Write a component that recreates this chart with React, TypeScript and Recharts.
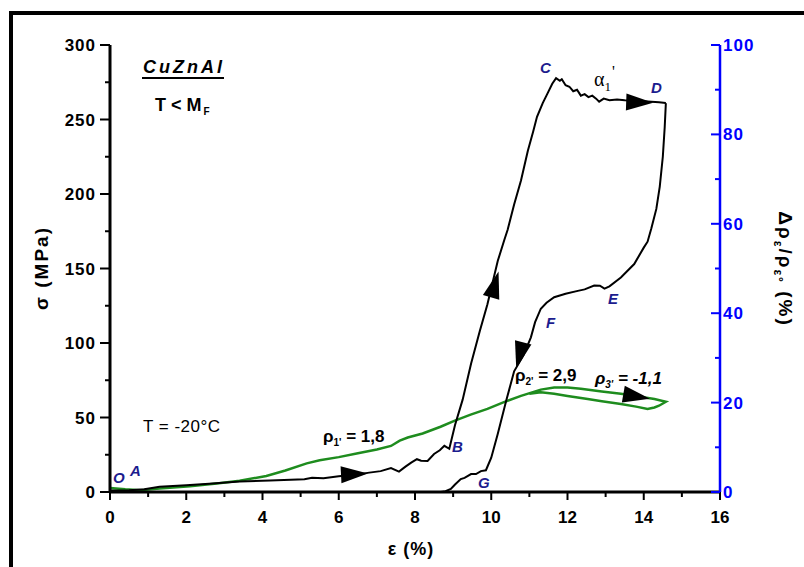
import React from 'react';
import { ComposedChart, Line, Scatter, XAxis, YAxis } from 'recharts';

// strain (%) and stress (MPa) on loading O-A-B-C-D
const loadStrain = [
  0, 0.5, 0.9, 1.3, 2.0, 2.6, 3.4, 4.2, 5.1, 5.3, 5.6, 6.0, 6.4, 6.8, 7.1, 7.37, 7.58, 7.75,
  7.9, 8.05, 8.16, 8.33, 8.5, 8.65, 8.77, 8.9, 9.05, 9.25, 9.47, 9.7, 9.9, 10.17, 10.34, 10.43,
  10.6, 10.78, 10.96, 11.1, 11.2, 11.35, 11.48, 11.6, 11.7, 11.8, 11.85, 11.95, 12.05, 12.15,
  12.25, 12.35, 12.45, 12.55, 12.65, 12.75, 12.83, 12.95, 13.1, 13.3, 13.5, 13.8, 14.1, 14.4, 14.58,
];
const loadStress = [
  1, 1.2, 1.8, 3.5, 4.5, 5.5, 7, 7.8, 8.5, 9.5, 9.2, 10.5, 11.5, 13, 14, 16, 13.7, 17,
  19.7, 22, 21, 20.8, 25.5, 28, 31, 29, 45, 62, 86, 108, 126, 155, 169, 176,
  193, 209, 229, 242, 251.8, 261, 267.7, 274, 277.8, 276, 277, 273, 272, 269,
  270, 266, 267, 265, 266, 264, 262, 264, 263, 263.5, 263, 262.5, 262, 261.5, 261,
];

// unloading D-E-F-G
const unloadStrain = [
  14.58, 14.55, 14.5, 14.42, 14.33, 14.2, 14.1, 14.0, 13.75, 13.4, 13.1, 12.97, 12.85, 12.7,
  12.45, 12.27, 11.95, 11.65, 11.45, 11.3, 11.15, 11.04, 10.85, 10.6, 10.39, 10.17, 10.0, 9.86,
  9.73, 9.6, 9.47, 9.3, 9.2, 9.05, 8.94, 8.8, 8.68,
];
const unloadStress = [
  261, 245, 225, 205, 190, 177, 168, 164, 153, 144, 138, 136.5, 138.5, 138.6,
  136, 135, 133, 130.7, 127, 123, 114, 103.8, 92, 81, 61, 39, 23, 14.6,
  14, 12, 12, 9.5, 8.7, 5, 2, 0.5, 0,
];

// relative resistance change (%)
const resStrain = [
  0, 0.4, 0.8, 1.3, 2.1, 2.8, 3.4, 4.1, 4.6, 5.16, 5.5, 6.0, 6.47, 7.0, 7.37, 7.6, 7.81, 8.2,
  8.67, 9.03, 9.46, 9.9, 10.3, 10.78, 11.3, 11.65, 12.0, 12.35, 12.9, 13.4, 13.9, 14.28, 14.58,
  14.4, 14.28, 14.1, 13.8, 13.4, 12.9, 12.53, 12.0, 11.65, 11.3, 11.0,
];
const resChange = [
  0.9, 0.6, 0.4, 0.8, 1.3, 1.9, 2.5, 3.6, 4.8, 6.4, 7.1, 7.8, 8.6, 9.5, 10.3, 11.5, 12.2, 13.1,
  14.6, 15.9, 17.3, 18.6, 20, 21.5, 22.9, 23.4, 23.4, 23.1, 22.5, 22, 21.3, 20.8, 20.2,
  19.3, 18.9, 18.6, 19.1, 19.7, 20.3, 20.8, 21.5, 22, 22.3, 22.0,
];

// direction arrows on the stress curve
const arrowStrain = [6.4, 10.09, 13.88, 10.75];
const arrowStress = [12, 139, 261.5, 92];
const arrowAngle = [-3, -74, 2, 105];
// direction arrow on the resistance curve
const resArrowStrain = [13.8];
const resArrowValue = [21.4];
const resArrowAngle = [10];

const strainTicks = [0, 1, 2, 3, 4, 5, 6, 7, 8, 9, 10, 11, 12, 13, 14, 15, 16];
const stressTicks = [0, 25, 50, 75, 100, 125, 150, 175, 200, 225, 250, 275, 300];
const resTicks = [0, 10, 20, 30, 40, 50, 60, 70, 80, 90, 100];

const pts = (xs: number[], ys: number[]) => xs.map((x, i) => ({ x, y: ys[i] }));
const loading = pts(loadStrain, loadStress);
const unloading = pts(unloadStrain, unloadStress);
const resistance = pts(resStrain, resChange);
const arrows = arrowStrain.map((x, i) => ({ x, y: arrowStress[i], angle: arrowAngle[i] }));
const resArrows = resArrowStrain.map((x, i) => ({ x, y: resArrowValue[i], angle: resArrowAngle[i] }));

const FONT = '"Liberation Sans", Arial, sans-serif';
const SERIF = '"Liberation Serif", "Times New Roman", serif';
const NAVY = '#1c1c8e';
const GREEN = '#1e8c1e';
const BLUE = '#0000ff';

const Arrow = (props: any) => {
  const { cx, cy, payload } = props;
  if (cx == null || cy == null) return null;
  return (
    <polygon
      points="14,0 -13,-8.5 -13,8.5"
      transform={`translate(${cx},${cy}) rotate(${payload.angle})`}
      fill="#000"
    />
  );
};

const BottomTick = (props: any) => {
  const { x, y, payload } = props;
  const major = payload.value % 2 === 0;
  return (
    <g>
      <line x1={x} x2={x} y1={y} y2={y + (major ? 8 : 5)} stroke="#000" strokeWidth={2} />
      {major && (
        <text x={x} y={y + 31} textAnchor="middle" fontFamily={FONT} fontWeight="bold" fontSize={17} fill="#000">
          {payload.value}
        </text>
      )}
    </g>
  );
};

const TopTick = (props: any) => {
  const { x, y } = props;
  return <line x1={x} x2={x} y1={y + 1} y2={y - 3} stroke="#000" strokeWidth={1.5} />;
};

const LeftTick = (props: any) => {
  const { x, y, payload } = props;
  const major = payload.value % 50 === 0;
  return (
    <g>
      <line x1={x - (major ? 10 : 5)} x2={x} y1={y} y2={y} stroke="#000" strokeWidth={2} />
      {major && (
        <text x={x - 14} y={y + 6} textAnchor="end" fontFamily={FONT} fontWeight="bold" fontSize={17} letterSpacing={1} fill="#000">
          {payload.value}
        </text>
      )}
    </g>
  );
};

const RightTick = (props: any) => {
  const { x, y, payload } = props;
  const major = payload.value % 20 === 0;
  return (
    <g>
      <line x1={x - (major ? 9 : 5)} x2={x} y1={y} y2={y} stroke={BLUE} strokeWidth={2} />
      {major && (
        <text x={x + 3} y={y + 6} textAnchor="start" fontFamily={FONT} fontWeight="bold" fontSize={17} letterSpacing={1} fill={BLUE}>
          {payload.value}
        </text>
      )}
    </g>
  );
};

const PointLabel = ({ x, y, t }: { x: number; y: number; t: string }) => (
  <text x={x} y={y} fontFamily={FONT} fontWeight="bold" fontStyle="italic" fontSize={15} fill={NAVY}>
    {t}
  </text>
);

export default function App() {
  return (
    <div style={{ position: 'absolute', left: 0, top: 0, width: 804, height: 567, background: '#fff' }}>
      <ComposedChart width={804} height={567} margin={{ top: 45, right: 0, bottom: 0, left: 0 }}>
        <XAxis
          xAxisId="b"
          type="number"
          dataKey="x"
          domain={[0, 16]}
          ticks={strainTicks}
          interval={0}
          height={75}
          tickSize={0}
          tickMargin={0}
          tickLine={false}
          axisLine={{ stroke: '#000', strokeWidth: 3 }}
          tick={<BottomTick />}
          allowDataOverflow
        />
        <XAxis
          xAxisId="t"
          orientation="top"
          type="number"
          dataKey="x"
          domain={[0, 16]}
          ticks={strainTicks}
          interval={0}
          height={0}
          tickSize={0}
          tickMargin={0}
          tickLine={false}
          axisLine={{ stroke: '#000', strokeWidth: 2 }}
          tick={<TopTick />}
        />
        <YAxis
          yAxisId="l"
          dataKey="y"
          type="number"
          domain={[0, 300]}
          ticks={stressTicks}
          interval={0}
          width={110}
          tickSize={0}
          tickMargin={0}
          tickLine={false}
          axisLine={{ stroke: '#000', strokeWidth: 3 }}
          tick={<LeftTick />}
          allowDataOverflow
        />
        <YAxis
          yAxisId="r"
          orientation="right"
          dataKey="y"
          type="number"
          domain={[0, 100]}
          ticks={resTicks}
          interval={0}
          width={84}
          tickSize={0}
          tickMargin={0}
          tickLine={false}
          axisLine={{ stroke: BLUE, strokeWidth: 2.5 }}
          tick={<RightTick />}
          allowDataOverflow
        />
        <Line data={resistance} xAxisId="b" yAxisId="r" dataKey="y" type="linear" stroke={GREEN} strokeWidth={2.5} dot={false} isAnimationActive={false} />
        <Line data={loading} xAxisId="b" yAxisId="l" dataKey="y" type="linear" stroke="#000" strokeWidth={2} dot={false} isAnimationActive={false} />
        <Line data={unloading} xAxisId="b" yAxisId="l" dataKey="y" type="linear" stroke="#000" strokeWidth={2} dot={false} isAnimationActive={false} />
        <Scatter data={arrows} xAxisId="b" yAxisId="l" dataKey="y" shape={Arrow} isAnimationActive={false} />
        <Scatter data={resArrows} xAxisId="b" yAxisId="r" dataKey="y" shape={Arrow} isAnimationActive={false} />
      </ComposedChart>

      <svg width={804} height={567} style={{ position: 'absolute', left: 0, top: 0, pointerEvents: 'none' }}>
        {/* outer frame */}
        <rect x={11} y={13} width={800} height={560} fill="none" stroke="#000" strokeWidth={4} />

        {/* axis titles */}
        <text transform="translate(48,268) rotate(-90)" textAnchor="middle" fontFamily={FONT} fontWeight="bold" fontSize={19} letterSpacing={2} fill="#000">
          σ (MPa)
        </text>
        <text x={411} y={555} textAnchor="middle" fontFamily={FONT} fontWeight="bold" fontSize={18} letterSpacing={1} fill="#000">
          ε (%)
        </text>
        <text transform="translate(779,269) rotate(90)" textAnchor="middle" fontFamily={FONT} fontWeight="bold" fontSize={19} letterSpacing={2} fill="#000">
          Δρ<tspan fontSize={12} dy={5}>ε</tspan>
          <tspan dy={-5}>/ρ</tspan>
          <tspan fontSize={12} dy={5}>ε°</tspan>
          <tspan dy={-5}> (%)</tspan>
        </text>

        {/* material and temperature notes */}
        <text x={143} y={73} fontFamily={FONT} fontWeight="bold" fontStyle="italic" fontSize={18} letterSpacing={3} fill="#000">
          CuZnAl
        </text>
        <line x1={142} x2={224} y1={78} y2={78} stroke="#000" strokeWidth={2} />
        <text x={155} y={111} fontFamily={FONT} fontWeight="bold" fontSize={18} fill="#000">
          T &lt; M<tspan fontSize={10} dy={4} dx={2}>F</tspan>
        </text>
        <text x={143} y={432} fontFamily={FONT} fontSize={17} letterSpacing={0.5} fill="#000">
          T = -20°C
        </text>

        {/* slopes */}
        <text x={323} y={442} fontFamily={FONT} fontWeight="bold" fontSize={17} fill="#000">
          ρ<tspan fontSize={10} dy={4}>1'</tspan>
          <tspan dy={-4}> = 1,8</tspan>
        </text>
        <text x={515} y={381} fontFamily={FONT} fontWeight="bold" fontSize={17} fill="#000">
          ρ<tspan fontSize={10} dy={4}>2'</tspan>
          <tspan dy={-4}> = 2,9</tspan>
        </text>
        <text x={595} y={384} fontFamily={FONT} fontWeight="bold" fontStyle="italic" fontSize={17} fill="#000">
          ρ<tspan fontSize={10} dy={4}>3'</tspan>
          <tspan dy={-4}> = -1,1</tspan>
        </text>
        <text x={594} y={86} fontFamily={SERIF} fontSize={20} fill="#000">
          α<tspan fontSize={13} dy={5}>1</tspan>
          <tspan fontSize={16} dy={-14} dx={1}>'</tspan>
        </text>

        {/* path points */}
        <PointLabel x={113} y={483} t="O" />
        <PointLabel x={130} y={476} t="A" />
        <PointLabel x={452} y={452} t="B" />
        <PointLabel x={540} y={73} t="C" />
        <PointLabel x={651} y={93} t="D" />
        <PointLabel x={608} y={304} t="E" />
        <PointLabel x={546} y={328} t="F" />
        <PointLabel x={478} y={488} t="G" />
      </svg>
    </div>
  );
}
